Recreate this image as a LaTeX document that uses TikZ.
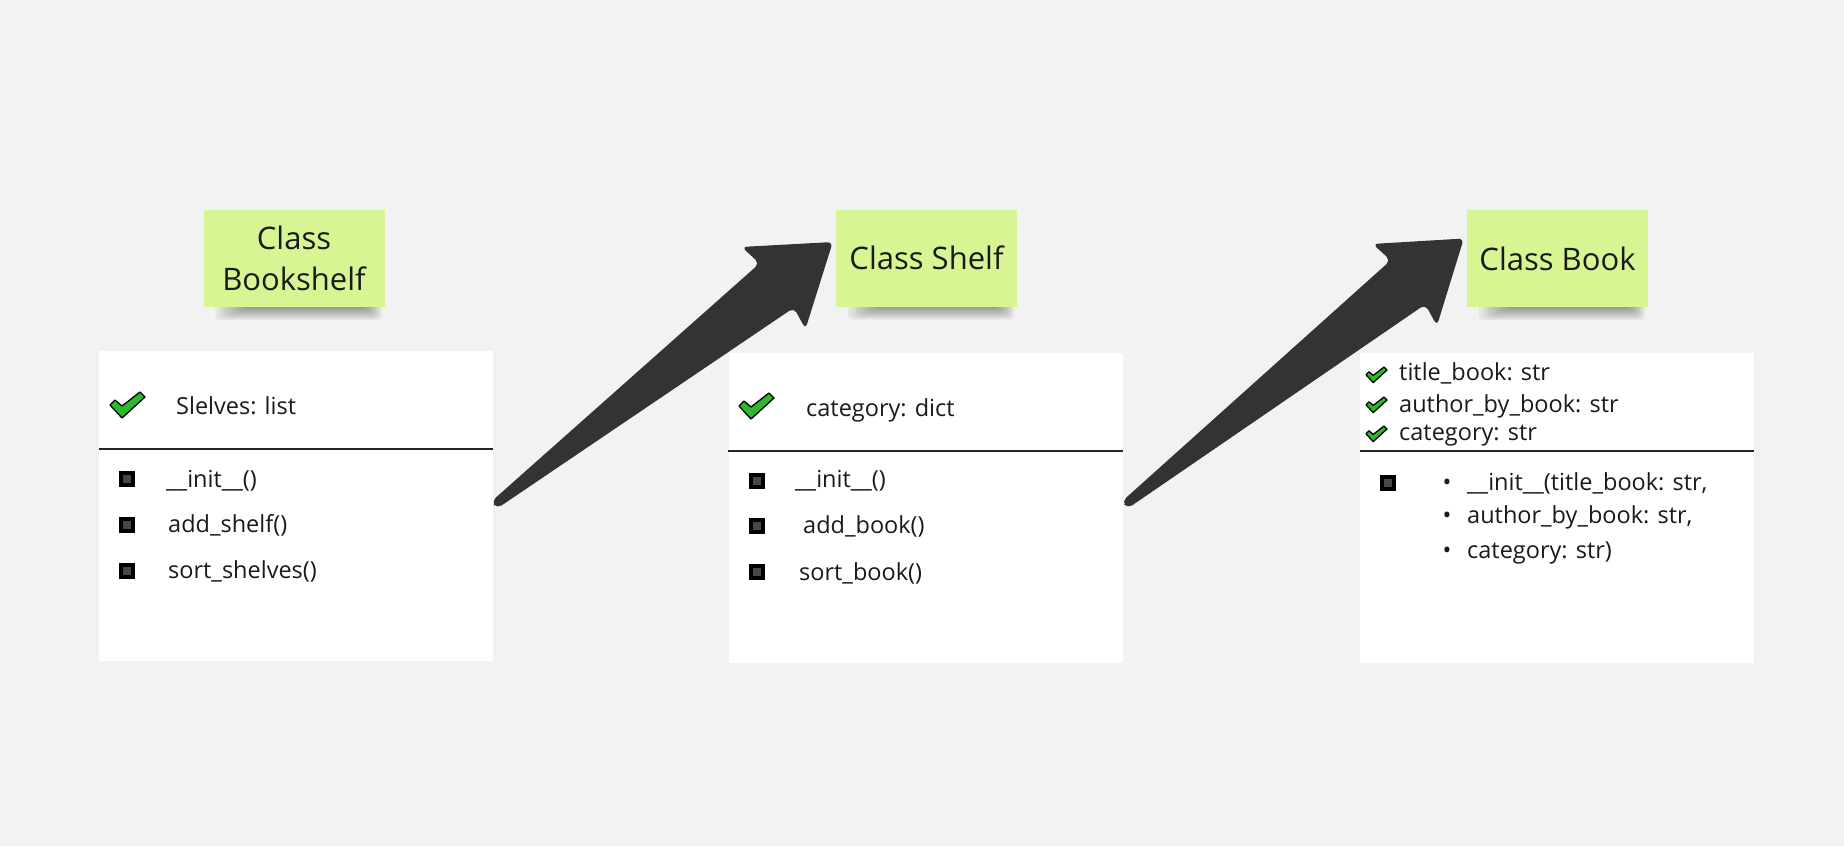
\documentclass[tikz,border=0pt]{standalone}
\usepackage{fontspec}
\setmainfont{Open Sans}
\usetikzlibrary{calc,backgrounds}
\definecolor{bgc}{HTML}{F2F2F2}
\definecolor{stick}{HTML}{D7F693}
\definecolor{arr}{HTML}{333333}
\definecolor{txt}{HTML}{1A1A1A}
\definecolor{chkg}{HTML}{2DB82D}
\newcommand\fatarrow[2]{%
  \fill[bigarrow] (#2)
   -- ($(#2)!75pt!(#1)!52pt!90:(#1)$)
   -- ($(#2)!71pt!(#1)!28pt!90:(#1)$)
   -- ($(#1)!4.5pt!-90:(#2)$)
   -- ($(#1)!4.5pt!90:(#2)$)
   -- ($(#2)!71pt!(#1)!28pt!-90:(#1)$)
   -- ($(#2)!75pt!(#1)!52pt!-90:(#1)$)
   -- cycle;}
\begin{document}
\begin{tikzpicture}[x=1pt,y=-1pt,
  every node/.style={text=txt},
  sticky/.style={fill=stick, minimum width=181pt, minimum height=97pt, inner sep=0pt, align=center, font=\fontsize{31}{41}\selectfont},
  umlbox/.style={fill=white, minimum width=394pt, minimum height=310pt, inner sep=0pt},
  lbl/.style={anchor=base west, inner sep=0pt, font=\fontsize{23.5}{28}\selectfont},
  bul/.style={anchor=base, inner sep=0pt, font=\fontsize{23.5}{28}\selectfont},
  divider/.style={line width=1.8pt, draw=black!85},
  bigarrow/.style={fill=arr, rounded corners=5.5pt},
  chk/.pic={\filldraw[fill=chkg, draw=black, line width=1.3pt, line join=round] (0,13)--(5,8)--(12,14)--(30,0)--(35,5)--(12,26)--cycle;},
  meth/.pic={\fill[black] (0,0) rectangle (16,16); \fill[black!72] (4,4) rectangle (12,12);}
]
\useasboundingbox (0,0) rectangle (1844,846);

% sticky notes
\node[sticky] (s1) at (294,258.5) {Class\\Bookshelf};
\node[sticky] (s2) at (926.5,258) {Class Shelf};
\node[sticky] (s3) at (1557.5,258.5) {Class Book};

% class boxes
\node[umlbox] (b1) at (296,506) {};
\node[umlbox] (b2) at (925.5,508) {};
\node[umlbox] (b3) at (1557,508) {};

\begin{scope}[on background layer]
  \fill[bgc] (0,0) rectangle (1844,846);
  \foreach \s in {s1,s2,s3}{
    \foreach \k in {0,...,7}{
      \fill[black, opacity=0.05, rounded corners=5pt]
        ($(\s.south west)+(12+4*\k,-6)$) rectangle ($(\s.south east)+(-3-2*\k,13-1.6*\k)$);
    }
  }
\end{scope}

% dividers
\draw[divider] ($(b1.north west)+(0,98)$) -- ($(b1.north east)+(0,98)$);
\draw[divider] ($(b2.north west)+(0,98)$) -- ($(b2.north east)+(0,98)$);
\draw[divider] ($(b3.north west)+(0,98)$) -- ($(b3.north east)+(0,98)$);

% box 1
\pic at (110,392) {chk};
\node[lbl] (b1a) at (176,414) {Slelves: list};
\pic at (119,471) {meth};
\pic at (119,517) {meth};
\pic at (119,563) {meth};
\node[lbl] (b1m1) at (166,487) {\_\_init\_\_()};
\node[lbl] (b1m2) at (168,532) {add\_shelf()};
\node[lbl] (b1m3) at (168,578) {sort\_shelves()};

% box 2
\pic at (739,393) {chk};
\node[lbl] (b2a) at (806,416) {category: dict};
\pic at (749,473) {meth};
\pic at (749,518) {meth};
\pic at (749,564) {meth};
\node[lbl] (b2m1) at (795,487) {\_\_init\_\_()};
\node[lbl] (b2m2) at (803,533) {add\_book()};
\node[lbl] (b2m3) at (799,580) {sort\_book()};

% box 3
\pic[scale=0.6] at (1366,367) {chk};
\pic[scale=0.6] at (1366,397) {chk};
\pic[scale=0.6] at (1366,426) {chk};
\node[lbl] (b3a1) at (1399,380) {title\_book: str};
\node[lbl] (b3a2) at (1399,412) {author\_by\_book: str};
\node[lbl] (b3a3) at (1399,440) {category: str};
\pic at (1380,475) {meth};
\node[bul] (b3d1) at (1447,490) {•};
\node[bul] (b3d2) at (1447,523) {•};
\node[bul] (b3d3) at (1447,558) {•};
\node[lbl] (b3m1) at (1467,490) {\_\_init\_\_(title\_book: str,};
\node[lbl] (b3m2) at (1467,523) {author\_by\_book: str,};
\node[lbl] (b3m3) at (1467,558) {category: str)};

% arrows
\coordinate (a1tail) at ($(b1.east)+(1,-1)$);
\coordinate (a1tip) at ($(s2.west)+(-3,-16)$);
\coordinate (a2tail) at ($(b2.east)+(2,-3)$);
\coordinate (a2tip) at ($(s3.west)+(-3,-20)$);
\fatarrow{a1tail}{a1tip}
\fatarrow{a2tail}{a2tip}
\end{tikzpicture}
\end{document}
